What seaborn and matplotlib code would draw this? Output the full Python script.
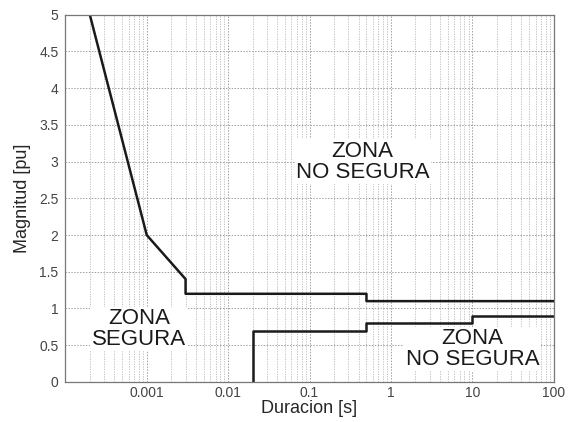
import pandas as pd
import matplotlib
matplotlib.use("Agg")
import matplotlib.pyplot as plt
import seaborn as sns
from matplotlib.ticker import LogLocator, FixedLocator, FixedFormatter

# curva superior (limite de sobretension)
sup_t = [0.0002, 0.001, 0.003, 0.003, 0.5, 0.5, 100]
sup_v = [5.0, 2.0, 1.4, 1.2, 1.2, 1.1, 1.1]
# curva inferior (limite de hueco)
inf_t = [0.02, 0.02, 0.5, 0.5, 10, 10, 100]
inf_v = [0.0, 0.7, 0.7, 0.8, 0.8, 0.9, 0.9]

x_ticks = [0.001, 0.01, 0.1, 1, 10, 100]
x_labels = ["0.001", "0.01", "0.1", "1", "10", "100"]
y_ticks = [0, 0.5, 1, 1.5, 2, 2.5, 3, 3.5, 4, 4.5, 5]
y_labels = ["0", "0.5", "1", "1.5", "2", "2.5", "3", "3.5", "4", "4.5", "5"]

df = pd.concat([
    pd.DataFrame({"t": sup_t, "v": sup_v, "curva": "sup", "orden": range(len(sup_t))}),
    pd.DataFrame({"t": inf_t, "v": inf_v, "curva": "inf", "orden": range(len(inf_t))}),
])

sns.set_style("white")
plt.rcParams['font.family'] = ['Liberation Sans', 'DejaVu Sans']

fig, ax = plt.subplots(figsize=(5.68, 4.22), dpi=100)
fig.subplots_adjust(left=0.115, right=0.975, top=0.965, bottom=0.095)

sns.lineplot(data=df, x="t", y="v", units="curva", estimator=None, sort=False,
             color="#1a1a1a", linewidth=1.8, ax=ax)

ax.set_xscale("log")
ax.set_xlim(1e-4, 100)
ax.set_ylim(0, 5)
ax.xaxis.set_major_locator(FixedLocator(x_ticks))
ax.xaxis.set_major_formatter(FixedFormatter(x_labels))
ax.xaxis.set_minor_locator(LogLocator(base=10, subs=range(2, 10), numticks=20))
ax.yaxis.set_major_locator(FixedLocator(y_ticks))
ax.yaxis.set_major_formatter(FixedFormatter(y_labels))

ax.grid(True, which="major", color="#a0a0a0", linestyle=(0, (1.5, 1.5)), linewidth=0.7)
ax.grid(True, which="minor", axis="x", color="#b8b8b8", linestyle=(0, (1.5, 1.5)), linewidth=0.6)
ax.tick_params(axis="both", which="both", length=0, labelsize=10, labelcolor="#444444")
ax.tick_params(axis="x", pad=3)
ax.tick_params(axis="y", pad=5)
for s in ax.spines.values():
    s.set_color("#777777")
    s.set_linewidth(0.9)

ax.set_xlabel("Duracion [s]", fontsize=13, labelpad=0)
ax.set_ylabel("Magnitud [pu]", fontsize=13, labelpad=6)

caja = dict(facecolor="white", edgecolor="none", pad=1)
ax.text(0.45, 3.0, "ZONA\nNO SEGURA", ha="center", va="center", fontsize=16,
        color="#1a1a1a", linespacing=1.0, bbox=caja, zorder=1.5)
ax.text(0.0008, 0.72, "ZONA\nSEGURA", ha="center", va="center", fontsize=16,
        color="#1a1a1a", linespacing=1.0, bbox=caja, zorder=1.5)
ax.text(10, 0.45, "ZONA\nNO SEGURA", ha="center", va="center", fontsize=16,
        color="#1a1a1a", linespacing=1.0, bbox=caja, zorder=1.5)

if ax.get_legend() is not None:
    ax.get_legend().remove()

plt.savefig("out.png", dpi=100)
